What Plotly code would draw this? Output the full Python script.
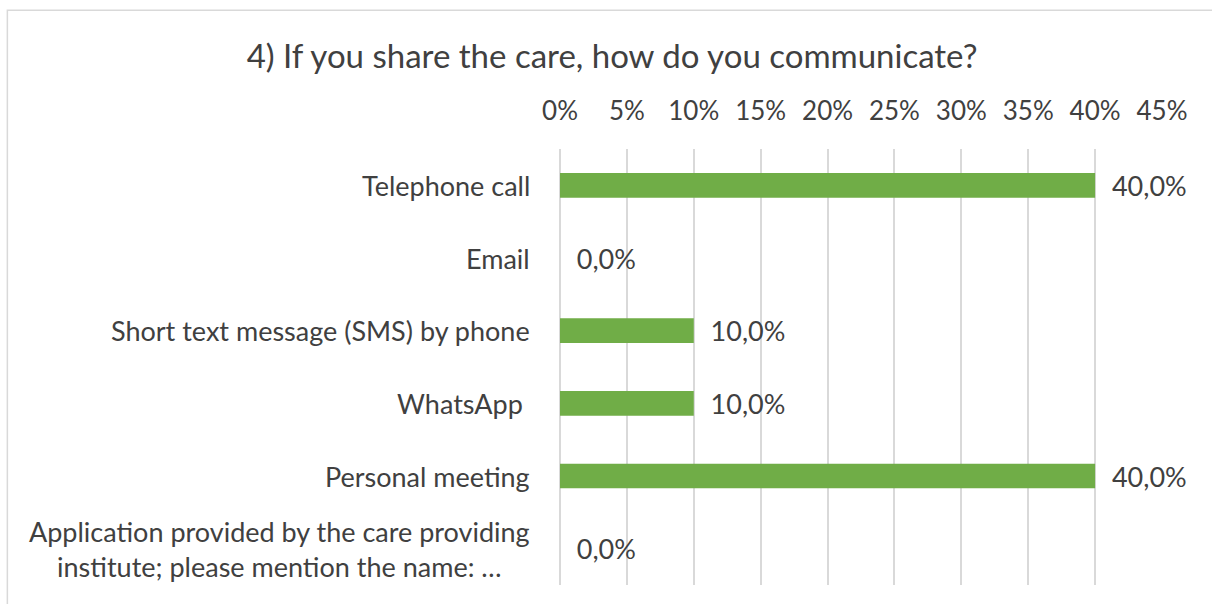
import plotly.graph_objects as go

categories = [
    "Telephone call",
    "Email",
    "Short text message (SMS) by phone",
    "WhatsApp ",
    "Personal meeting",
    "Application provided by the care providing<br>institute; please mention the name: …",
]
shares = [0.40, 0.0, 0.10, 0.10, 0.40, 0.0]
tick_values = [0, 0.05, 0.10, 0.15, 0.20, 0.25, 0.30, 0.35, 0.40, 0.45]
tick_labels = ["0%", "5%", "10%", "15%", "20%", "25%", "30%", "35%", "40%", "45%"]

FONT = "Lato, 'Noto Sans', sans-serif"
TEXT = "#404040"
GRID = "#D9D9D9"
GREEN = "#70AD47"

fig = go.Figure()
fig.add_trace(go.Bar(
    x=shares,
    y=categories,
    orientation="h",
    marker=dict(color=GREEN, line=dict(width=0)),
    width=0.34,
    text=[f"{v * 100:.1f}%".replace(".", ",") for v in shares],
    texttemplate="  %{text}",
    textposition="outside",
    constraintext="none",
    textfont=dict(family=FONT, size=27, color=TEXT),
    cliponaxis=False,
    hoverinfo="skip",
))

# category labels, centred per line and right-anchored beside the axis
for cat in categories:
    fig.add_annotation(
        x=0, y=cat, xref="x", yref="y",
        text=cat, showarrow=False,
        xanchor="right", yanchor="middle", align="center",
        xshift=-28,
        font=dict(family=FONT, size=27, color=TEXT),
    )

# chart-area border
fig.add_shape(
    type="rect", xref="paper", yref="paper",
    x0=-0.918, x1=1.2, y0=-0.2, y1=1.318,
    line=dict(color="#D9D9D9", width=1.5), fillcolor="rgba(0,0,0,0)",
    layer="below",
)

fig.update_layout(
    width=1212,
    height=604,
    margin=dict(l=560, r=50, t=149, b=19),
    paper_bgcolor="white",
    plot_bgcolor="white",
    showlegend=False,
    title=dict(
        text="4) If you share the care, how do you communicate?",
        x=0.505, xref="container", xanchor="center",
        y=1 - 56 / 604, yref="container", yanchor="middle",
        font=dict(family=FONT, size=33, color=TEXT),
    ),
    xaxis=dict(
        side="top",
        range=[0, 0.45],
        tickvals=tick_values,
        ticktext=tick_labels,
        showgrid=True,
        gridcolor=GRID,
        gridwidth=1.5,
        zeroline=True,
        zerolinecolor=GRID,
        zerolinewidth=1.5,
        showline=False,
        ticks="",
        ticklabelstandoff=23,
        tickfont=dict(family=FONT, size=26, color=TEXT),
        fixedrange=True,
    ),
    yaxis=dict(
        categoryorder="array",
        categoryarray=categories,
        autorange="reversed",
        showticklabels=False,
        showgrid=False,
        zeroline=False,
        ticks="",
        fixedrange=True,
    ),
)

fig.write_html("out.html")
